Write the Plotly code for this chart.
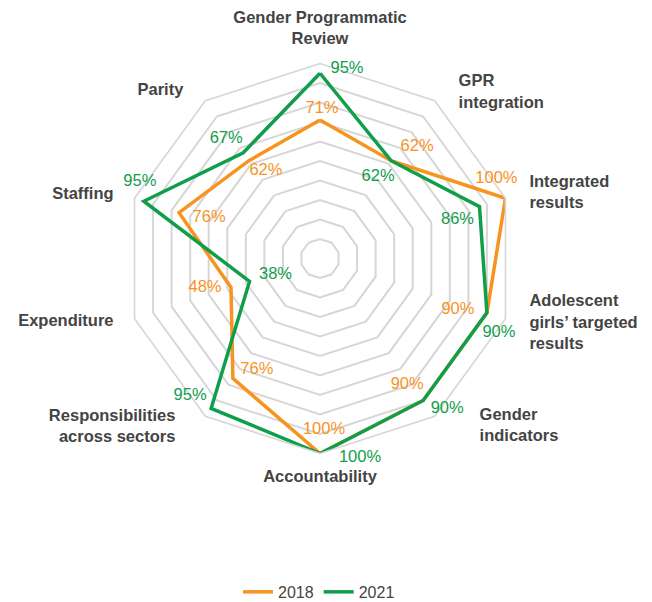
import math
import plotly.graph_objects as go

# categories, clockwise from the top
categories = [
    "Gender Programmatic<br>Review",
    "GPR<br>integration",
    "Integrated<br>results",
    "Adolescent<br>girls’ targeted<br>results",
    "Gender<br>indicators",
    "Accountability",
    "Responsibilities<br>across sectors",
    "Expenditure",
    "Staffing",
    "Parity",
]
values_2018 = [71, 62, 100, 90, 90, 100, 76, 48, 76, 62]
values_2021 = [95, 62, 86, 90, 90, 100, 95, 38, 95, 67]

orange = '#F7931E'
green = '#109E4A'
text_grey = '#444444'

angles = [i * 360 / len(categories) for i in range(len(categories))]

# label nudges in pixels (dx right, dy down) from each point
nudge_2018 = [(2, -11), (26, -14), (-9, -19), (-29, -3), (-16, -16),
              (4, -24), (24, -9), (-26, 0), (30, 5), (17, 10)]
nudge_2021 = [(27, -4), (-13, 16), (-22, 13), (12, 20), (24, 8),
              (40, 4), (-21, -12), (26, -7), (-4, -19), (-17, -14)]

# category label anchors, nudged from the outer (100%) vertex
nudge_cat = [(0, -34), (24, -8), (24, -5), (24, 5), (45, 10),
             (0, 24), (-30, 11), (-21, 3), (-21, -3), (-22, -10)]
pos_cat = ['middle center', 'middle right', 'middle right', 'middle right', 'middle right',
           'middle center', 'middle left', 'middle left', 'middle left', 'middle left']

# chart geometry (figure pixels; the page body adds an 8px margin, so shift by 8)
CX, CY = 312, 250.5
R_PX = 195   # radius of the 100% ring
R2_PX = 250  # radius of the larger, invisible label overlay


def label_positions(vals, nudges):
    rs, ts = [], []
    for v, a, (dx, dy) in zip(vals, angles, nudges):
        x = v / 100 * R_PX * math.sin(math.radians(a)) + dx
        y = v / 100 * R_PX * math.cos(math.radians(a)) - dy
        rs.append(math.hypot(x, y) / R2_PX * 100)
        ts.append(math.degrees(math.atan2(x, y)) % 360)
    return rs, ts


fig = go.Figure()

for name, vals, color in [('2018', values_2018, orange), ('2021', values_2021, green)]:
    fig.add_trace(go.Scatterpolar(
        r=vals + vals[:1],
        theta=categories + categories[:1],
        mode='lines',
        name=name,
        line=dict(color=color, width=3.5),
        subplot='polar',
    ))

# percentage labels live on a transparent overlay polar with a numeric angle axis
for vals, color, nudges in [(values_2018, orange, nudge_2018), (values_2021, green, nudge_2021)]:
    rs, ts = label_positions(vals, nudges)
    fig.add_trace(go.Scatterpolar(
        r=rs,
        theta=ts,
        mode='text',
        text=[f'{v}%' for v in vals],
        textposition='middle center',
        textfont=dict(color=color, size=16.5, family='Liberation Sans'),
        showlegend=False,
        hoverinfo='skip',
        cliponaxis=False,
        subplot='polar2',
    ))

# category names
rs, ts = label_positions([100] * len(categories), nudge_cat)
fig.add_trace(go.Scatterpolar(
    r=rs,
    theta=ts,
    mode='text',
    text=categories,
    textposition=pos_cat,
    textfont=dict(color=text_grey, size=16.5, family='Liberation Sans', weight='bold'),
    showlegend=False,
    hoverinfo='skip',
    cliponaxis=False,
    subplot='polar2',
))

W, H = 652, 602
dom = dict(x=[(CX - R_PX) / W, (CX + R_PX) / W], y=[1 - (CY + R_PX) / H, 1 - (CY - R_PX) / H])
dom2 = dict(x=[(CX - R2_PX) / W, (CX + R2_PX) / W], y=[1 - (CY + R2_PX) / H, 1 - (CY - R2_PX) / H])

fig.update_layout(
    width=W,
    height=H,
    margin=dict(t=0, r=0, b=0, l=0),
    paper_bgcolor='white',
    plot_bgcolor='white',
    font=dict(family='Liberation Sans', color=text_grey),
    polar=dict(
        domain=dom,
        gridshape='linear',
        bgcolor='white',
        radialaxis=dict(
            range=[0, 100],
            dtick=10,
            showticklabels=False,
            ticks='',
            showline=False,
            gridcolor='#D6D6D6',
            gridwidth=1.6,
        ),
        angularaxis=dict(
            direction='clockwise',
            rotation=90,
            showgrid=False,
            showline=True,
            linecolor='#D6D6D6',
            linewidth=1.6,
            ticks='',
            showticklabels=False,
        ),
    ),
    polar2=dict(
        domain=dom2,
        bgcolor='rgba(0,0,0,0)',
        radialaxis=dict(range=[0, 100], visible=False),
        angularaxis=dict(
            type='linear',
            thetaunit='degrees',
            direction='clockwise',
            rotation=90,
            visible=False,
        ),
    ),
    legend=dict(
        orientation='h',
        x=0.477,
        xanchor='center',
        y=0.03,
        yanchor='middle',
        font=dict(size=16, color=text_grey),
    ),
)

fig.write_html("out.html")
